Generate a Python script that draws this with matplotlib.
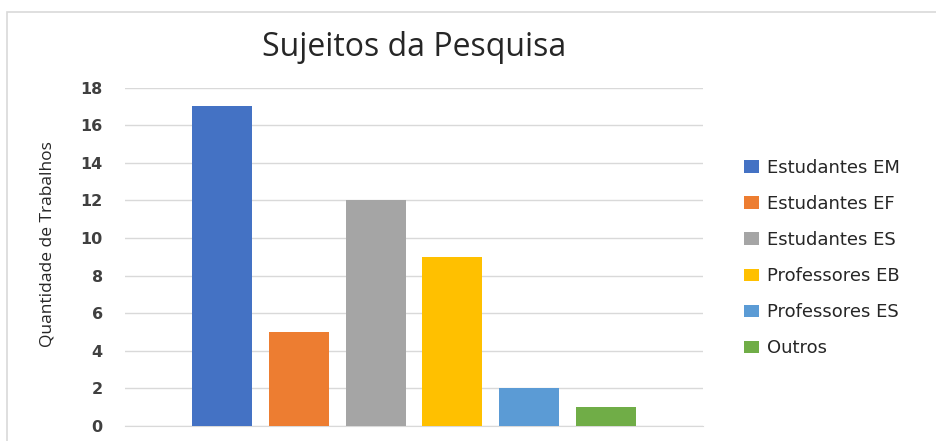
import matplotlib
matplotlib.use("Agg")
import matplotlib.pyplot as plt
from matplotlib.patches import Rectangle

categorias = ["Estudantes EM", "Estudantes EF", "Estudantes ES",
              "Professores EB", "Professores ES", "Outros"]
quantidades = [17, 5, 12, 9, 2, 1]
cores = ["#4472C4", "#ED7D31", "#A5A5A5", "#FFC000", "#5B9BD5", "#70AD47"]
yticks = [0, 2, 4, 6, 8, 10, 12, 14, 16, 18]

W, H = 937, 441
fig = plt.figure(figsize=(W / 100, H / 100), dpi=100)
fig.patch.set_facecolor("white")

# moldura cinza do grafico
fig.patches.append(Rectangle((7 / W, -0.05), (W - 6) / W, 1.05 - 12 / H,
                             transform=fig.transFigure, fill=False,
                             edgecolor="#D9D9D9", linewidth=1.2))

ax = fig.add_axes([125 / W, 1 - 426 / H, 578 / W, (426 - 87.7) / H])
for i, (nome, q, c) in enumerate(zip(categorias, quantidades, cores)):
    ax.bar(i, q, width=0.78, color=c, label=nome, zorder=3)

ax.set_xlim(-1.26, 6.26)
ax.set_ylim(0, 18)
ax.set_yticks(yticks)
ax.set_xticks([])
ax.grid(axis="y", color="#D9D9D9", linewidth=1.0, zorder=0)
for s in ["top", "right", "left"]:
    ax.spines[s].set_visible(False)
ax.spines["bottom"].set_color("#D9D9D9")
ax.tick_params(axis="y", length=0, pad=16, labelsize=11.5, labelcolor="#404040")
for t in ax.get_yticklabels():
    t.set_fontweight("semibold")

fig.text(414 / W, 1 - 47 / H, "Sujeitos da Pesquisa", ha="center", va="center",
         fontsize=23, color="#262626", family="Open Sans")
fig.text(48 / W, 1 - 244 / H, "Quantidade de Trabalhos", rotation=90,
         ha="center", va="center", fontsize=12.5, color="#262626", family="Open Sans")

leg = ax.legend(loc="upper left", bbox_to_anchor=(735 / W, 1 - 150 / H),
                bbox_transform=fig.transFigure, frameon=False,
                prop={"family": "DejaVu Sans", "size": 13},
                handlelength=0.85, handleheight=0.7,
                handletextpad=0.45, labelspacing=1.0, borderpad=0)
for t in leg.get_texts():
    t.set_color("#262626")

fig.savefig("out.png", dpi=100)
